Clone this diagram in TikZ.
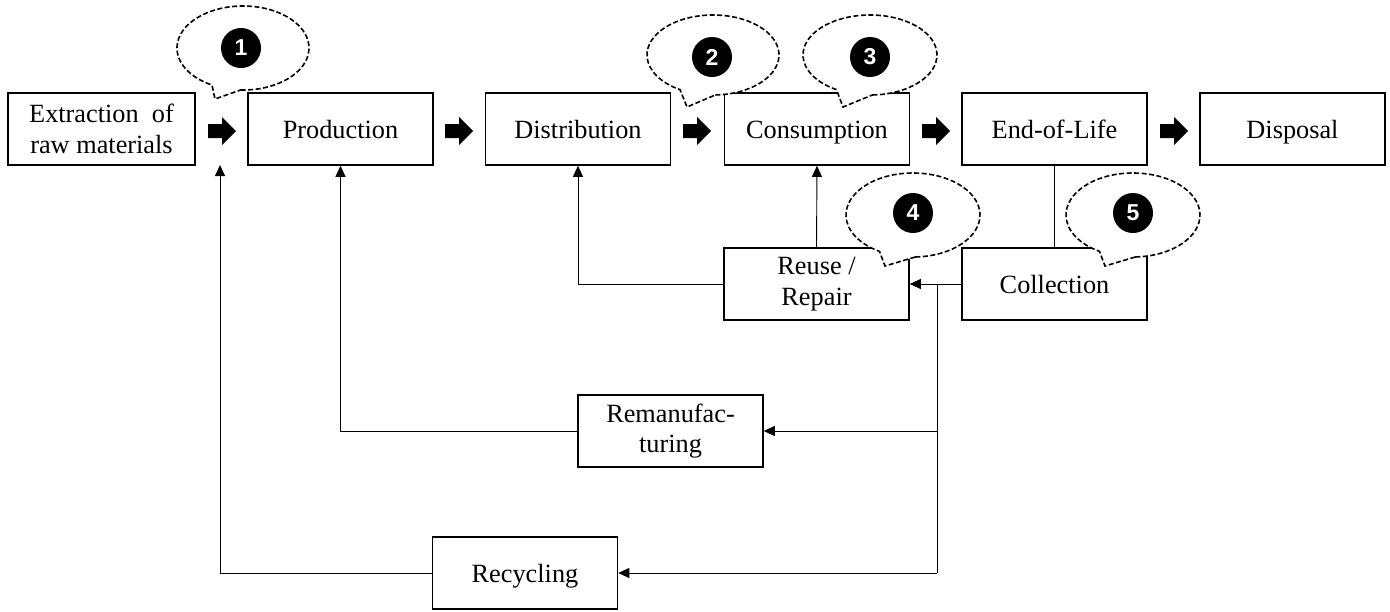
\documentclass[tikz,border=0pt]{standalone}
\usepackage{fontspec}
\setmainfont{Liberation Serif}
\newfontfamily\numfont{Liberation Sans}
\usetikzlibrary{arrows.meta}
\begin{document}
\begin{tikzpicture}[x=1pt,y=-1pt,
 box/.style={draw, line width=1.6pt, minimum width=185pt, minimum height=72pt, inner sep=0pt, align=center, font=\fontsize{26.3}{30.5}\selectfont},
 one/.style={box, text height=24pt, text depth=6pt},
 conn/.style={line width=0.9pt},
 arr/.style={conn, -{Triangle[length=11pt,width=10pt]}},
 bubble/.style={draw, line width=1.6pt, fill=white, dash pattern=on 5pt off 2.5pt},
 num/.style={circle, fill=black, text=white, minimum size=40pt, inner sep=0pt, font=\numfont\bfseries\fontsize{23}{23}\selectfont},
 barrow/.pic={\fill (-14,-7) -- (0,-7) -- (0,-14) -- (14,0) -- (0,14) -- (0,7) -- (-14,7) -- cycle;}
]
\useasboundingbox (0,0) rectangle (1390,611);
% main chain
\node[box, minimum width=187pt] (ext) at (101.5,129) {Extraction \ of\\raw materials};
\node[one] (prod) at (340.5,129) {Production};
\node[one] (dist) at (578,129) {Distribution};
\node[one] (cons) at (817,129) {Consumption};
\node[one] (eol) at (1054.5,129) {End-of-Life};
\node[one] (disp) at (1292.5,129) {Disposal};
% loop boxes
\node[box] (reuse) at (816.5,284) {Reuse /\\Repair};
\node[one] (coll) at (1054.5,284) {Collection};
\node[box] (reman) at (670.5,431) {Remanufac-\\turing};
\node[one] (recyc) at (525,573) {Recycling};
% block arrows
\pic at (222,131) {barrow};
\pic at (459,131) {barrow};
\pic at (697,131) {barrow};
\pic at (936,131) {barrow};
\pic at (1174,131) {barrow};
% connectors
\coordinate (j1) at (937,284);
\coordinate (j2) at (937,431);
\coordinate (j3) at (937,573);
\coordinate (rin) at (220,165);
\draw[conn] (eol) -- (coll);
\draw[arr] (coll.west) -- (reuse.east);
\draw[conn] (j1) -- (j3);
\draw[arr] (j2) -- (reman.east);
\draw[arr] (j3) -- (recyc.east);
\draw[arr] (reuse.north) -- (cons.south);
\draw[arr] (reuse.west) -| (dist.south);
\draw[arr] (reman.west) -| (prod.south);
\draw[arr] (recyc.west) -| (rin);
% callouts
\draw[bubble] (243,48) ++(268:66pt and 42pt) arc[start angle=268, end angle=602, x radius=66pt, y radius=42pt] -- (215,99) -- cycle;
\node[num] (n1) at (241,48) {1};
\draw[bubble] (713,55) ++(272:66pt and 40pt) arc[start angle=272, end angle=600, x radius=66pt, y radius=40pt] -- (687,107) -- cycle;
\node[num] (n2) at (712,57) {2};
\draw[bubble] (870,55) ++(272:67pt and 40pt) arc[start angle=272, end angle=600, x radius=67pt, y radius=40pt] -- (843,107) -- cycle;
\node[num] (n3) at (870,57) {3};
\draw[bubble] (913,215) ++(272:67pt and 42pt) arc[start angle=272, end angle=600, x radius=67pt, y radius=42pt] -- (885,266) -- cycle;
\node[num] (n4) at (913,213) {4};
\draw[bubble] (1133,215) ++(272:67pt and 42pt) arc[start angle=272, end angle=600, x radius=67pt, y radius=42pt] -- (1105,266) -- cycle;
\node[num] (n5) at (1133,213) {5};
\end{tikzpicture}
\end{document}
